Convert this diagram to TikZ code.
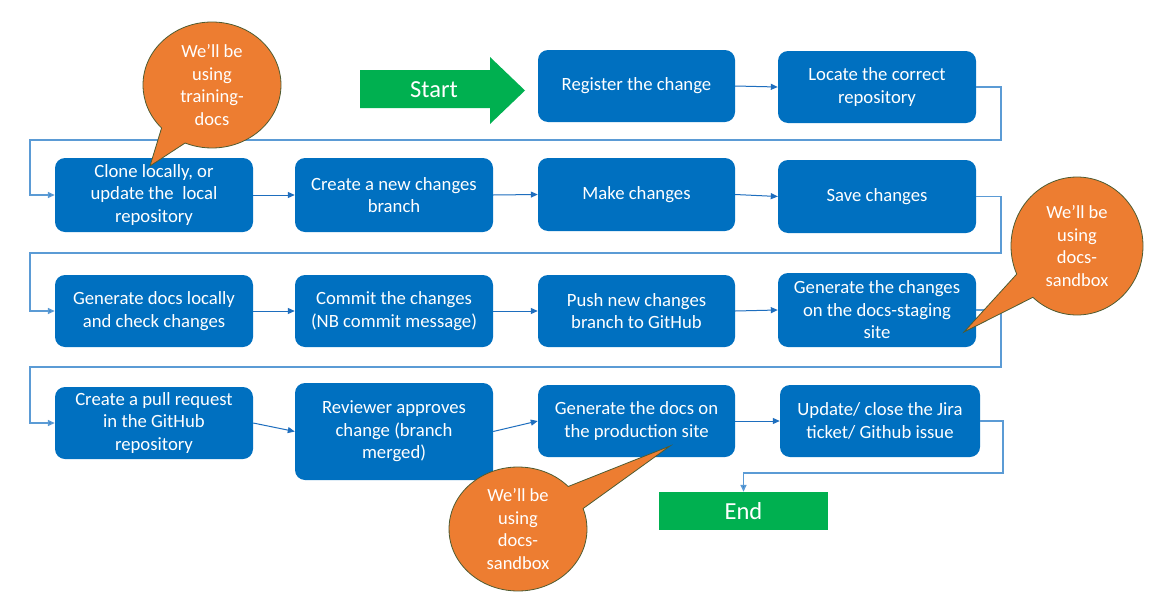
\documentclass[tikz,border=0pt]{standalone}
\usepackage{fontspec}
\setmainfont{Carlito}
\usetikzlibrary{shapes.callouts,arrows.meta}
\definecolor{boxblue}{RGB}{0,112,192}
\definecolor{lineblue}{RGB}{91,155,213}
\definecolor{arrowblue}{RGB}{30,110,190}
\definecolor{startgreen}{RGB}{0,176,80}
\definecolor{calloutorange}{RGB}{237,125,49}
\definecolor{calloutedge}{RGB}{78,91,49}
\begin{document}
\begin{tikzpicture}[x=1pt,y=-1pt,
  stepbox/.style={rectangle, rounded corners=10pt, fill=boxblue, text=white, align=center,
    minimum width=198pt, minimum height=72pt, inner sep=1pt, font=\fontsize{18.7}{22.5}\selectfont},
  flow/.style={draw=arrowblue, line width=1pt, -{Triangle[length=7pt,width=6pt]}},
  loopline/.style={draw=lineblue, line width=1.5pt, -{Triangle[length=7pt,width=6pt,fill=arrowblue]}},
  bubble/.style={ellipse callout, fill=calloutorange, draw=calloutedge, line width=0.8pt,
    text=white, align=center, inner sep=0pt, callout pointer arc=24,
    font=\fontsize{18.5}{22.5}\selectfont},
  terminal/.style={rectangle, fill=startgreen, text=white, font=\fontsize{24.5}{26}\selectfont}
]
\fill[white] (0,0) rectangle (1171,608);
\useasboundingbox (0,0) rectangle (1171,608);

% Start arrow
\fill[startgreen] (360,70) -- (490,70) -- (490,57) -- (525,90.5) -- (490,124) -- (490,108) -- (360,108) -- cycle;
\node[text=white, font=\fontsize{24.5}{26}\selectfont] (start) at (434,90) {Start};

% Row 1
\node[stepbox, minimum width=197pt] (register) at (636.5,86) {Register the change};
\node[stepbox] (locate) at (877,87) {Locate the correct\\repository};
% Row 2
\node[stepbox, minimum height=74pt] (clone) at (154,195) {Clone locally, or\\update the\ \ local\\repository};
\node[stepbox, minimum height=74pt] (create) at (394,195) {Create a new changes\\branch};
\node[stepbox, minimum width=197pt, minimum height=73pt] (make) at (636.5,194.5) {Make changes};
\node[stepbox, minimum height=73pt] (save) at (877,196.5) {Save changes};
% Row 3
\node[stepbox] (gendocs) at (154,311) {Generate docs locally\\and check changes};
\node[stepbox] (commit) at (394,311) {Commit the changes\\(NB commit message)};
\node[stepbox, minimum width=197pt] (push) at (636.5,311) {Push new changes\\branch to GitHub};
\node[stepbox, minimum height=74pt] (staging) at (877,310) {Generate the changes\\on the docs-staging\\site};
% Row 4
\node[stepbox] (pull) at (154,423) {Create a pull request\\in the GitHub\\repository};
\node[stepbox, minimum height=97pt] (review) at (394,431.5) {Reviewer approves\\change (branch\\merged)};
\node[stepbox, minimum width=197pt] (prod) at (636.5,421) {Generate the docs on\\the production site};
\node[stepbox, minimum width=200pt] (update) at (880,421) {Update/ close the Jira\\ticket/ Github issue};
% End
\node[terminal, minimum width=169pt, minimum height=38pt] (end) at (743.5,511) {End};

% Straight connectors
\draw[flow] (register.east) -- (locate.west);
\draw[flow] (clone.east) -- (create.west);
\draw[flow] (create.east) -- (make.west);
\draw[flow] (make.east) -- (save.west);
\draw[flow] (gendocs.east) -- (commit.west);
\draw[flow] (commit.east) -- (push.west);
\draw[flow] (push.east) -- (staging.west);
\draw[flow] (pull.east) -- (review.west);
\draw[flow] (review.east) -- (prod.west);
\draw[flow] (prod.east) -- (update.west);

% Wrap-around connectors
\draw[loopline] (locate.east) -- (1001,87) -- (1001,140) -- (30,140) |- (clone.west);
\draw[loopline] (save.east) -- (1001,196.5) -- (1001,253) -- (30,253) |- (gendocs.west);
\draw[loopline] (staging.east) -- (1001,310) -- (1001,367) -- (30,367) |- (pull.west);
\draw[loopline] (update.east) -- (1003,421) -- (1003,473) -- (743.5,473) -- (end.north);

% Callouts
\node[bubble, minimum width=138pt, minimum height=126pt, callout absolute pointer={(150,166)}]
  (b1) at (212,85) {We’ll be\\using\\training-\\docs};
\node[bubble, minimum width=132pt, minimum height=138pt, callout absolute pointer={(964,332)}]
  (b2) at (1077,246) {We’ll be\\using\\docs-\\sandbox};
\node[bubble, minimum width=138pt, minimum height=124pt, callout absolute pointer={(670,446)}]
  (b3) at (518,529) {We’ll be\\using\\docs-\\sandbox};
\end{tikzpicture}
\end{document}
